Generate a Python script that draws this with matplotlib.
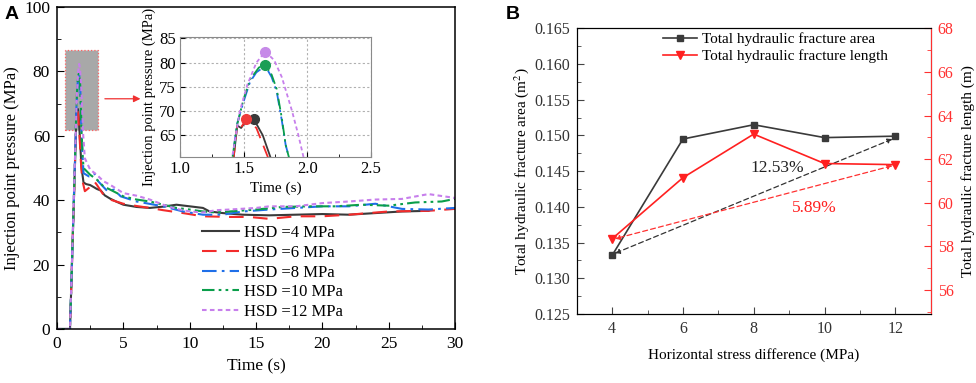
import matplotlib
matplotlib.use("Agg")
import matplotlib.pyplot as plt
from matplotlib.patches import Rectangle
from matplotlib.ticker import MultipleLocator, FormatStrFormatter

plt.rcParams['font.family'] = ['Liberation Serif', 'DejaVu Serif']
plt.rcParams['mathtext.fontset'] = 'stix'

# ---------------- Panel A data ----------------
labels_a = ["HSD =4 MPa", "HSD =6 MPa", "HSD =8 MPa", "HSD =10 MPa", "HSD =12 MPa"]

t_4 = [0, 0.98, 1.42, 1.45, 1.48, 1.52, 1.58, 1.65, 1.71, 1.85, 2.0, 2.2, 2.5, 2.8, 3.0, 3.3, 3.6,
       4.0, 4.5, 5.0, 6, 7, 8, 9, 10, 11, 11.5, 12.5, 14, 16, 18, 20, 22, 24, 26, 28]
p_4 = [0, 0, 60, 67, 66.5, 68, 68.3, 65, 60.5, 50, 45.5, 45, 44.7, 44, 43.5, 43, 41.5,
       40.5, 39.5, 38.6, 37.9, 37.6, 38.0, 38.6, 38.1, 37.6, 36.5, 36.0, 35.5, 35.3, 35.5, 35.7, 35.5, 36.0, 36.5, 36.7]

t_6 = [0, 0.98, 1.42, 1.45, 1.48, 1.52, 1.60, 1.69, 1.8, 1.9, 2.1, 2.4, 2.8, 3.0, 3.5, 4.0,
       5, 6, 7, 8, 9.5, 11, 13, 14.5, 16, 18, 20, 22, 25, 28, 30]
p_6 = [0, 0, 60, 67.3, 66.6, 68.3, 66.5, 60.5, 52, 46.4, 42.8, 43.8, 45.9, 44.8, 41.7, 40.2,
       38.9, 38.2, 37.6, 36.9, 36.0, 35.0, 34.8, 34.8, 34.2, 35.0, 35.0, 35.5, 36.5, 36.7, 37.3]

t_8 = [0, 0.98, 1.41, 1.45, 1.5, 1.55, 1.6, 1.67, 1.72, 1.76, 1.80, 1.83, 1.86, 1.95, 2.0, 2.4,
       2.8, 3.1, 3.8, 4.3, 4.8, 6, 8, 9.5, 11, 12.5, 14, 16, 18, 20, 22, 24, 26, 28, 30]
p_8 = [0, 0, 60, 67.5, 72, 76, 78, 79.3, 77, 74, 68, 63, 60, 52, 48.4, 47.4,
       48.4, 45.9, 42.8, 43.3, 41.2, 39.6, 38.1, 36.5, 35.5, 35.5, 36.5, 37.1, 37.6, 38.1, 38.1, 38.9, 37.3, 37.1, 37.6]

t_10 = [0, 0.98, 1.41, 1.45, 1.5, 1.55, 1.62, 1.67, 1.72, 1.76, 1.80, 1.83, 1.86, 1.95, 2.0, 2.5,
        3.0, 3.5, 4, 5, 6, 7, 8, 9, 10, 11, 12, 13, 15, 17, 19, 21, 23, 25, 27, 29, 30]
p_10 = [0, 0, 60, 67.3, 72.5, 76.5, 79, 79.5, 77.5, 74.5, 68.5, 63, 60, 53, 50, 47.9,
        46.4, 44.3, 43.3, 41.2, 40.2, 39.6, 38.6, 37.6, 37.1, 36.5, 36.2, 36.5, 37.1, 37.9, 38.1, 38.1, 38.6, 38.3, 39.3, 39.6, 40.4]

t_12 = [0, 0.98, 1.42, 1.47, 1.53, 1.6, 1.67, 1.74, 1.8, 1.88, 1.93, 1.97, 2.1, 2.5, 3, 3.5, 4,
        5, 6, 7, 8, 9, 10, 11, 12, 13, 15, 16, 18, 20, 22, 24, 26, 28, 30]
p_12 = [0, 0, 62, 70, 75.5, 80, 82.3, 80.5, 77, 70, 65, 60.5, 53, 49.5, 47.9, 45.9, 44.8,
        42.2, 41.4, 40.2, 38.6, 37.3, 36.5, 36.2, 36.9, 37.1, 37.6, 38.1, 38.1, 39.1, 39.6, 40.2, 40.4, 41.9, 40.7]

# peak markers shown in the inset (time, pressure)
peak_t = [1.58, 1.52, 1.67, 1.67]
peak_p = [68.3, 68.3, 79.5, 82.3]
peak_colors = ["#3a3a3a", "#f03a3a", "#1a9e55", "#c68ae8"]

# ---------------- Panel B data ----------------
hsd = [4, 6, 8, 10, 12]
area = [0.1332, 0.1495, 0.1515, 0.1497, 0.1499]
length = [58.35, 61.15, 63.15, 61.8, 61.75]
area_label = "Total hydraulic fracture area"
length_label = "Total hydraulic fracture length"
area_pct = "12.53%"
length_pct = "5.89%"

colors = ["#3a3a3a", "#f22b2b", "#1f6fe8", "#0a9e4a", "#c77fec"]
dashes = [None, (7, 4.5), (7, 2.5, 1.3, 2.5), (6, 2, 1.3, 2, 1.3, 2), (2.2, 1.6)]
series = [(t_4, p_4), (t_6, p_6), (t_8, p_8), (t_10, p_10), (t_12, p_12)]

fig = plt.figure(figsize=(9.76, 3.83), dpi=100)

# ---------------- Panel A ----------------
axA = fig.add_axes([0.0584, 0.141, 0.4078, 0.8407])
for (t, p), c, d, lab in zip(series, colors, dashes, labels_a):
    line, = axA.plot(t, p, color=c, lw=1.5, label=lab)
    if d is not None:
        line.set_dashes(d)
axA.set_xlim(0, 30)
axA.set_ylim(0, 100)
axA.xaxis.set_major_locator(MultipleLocator(5))
axA.xaxis.set_minor_locator(MultipleLocator(2.5))
axA.yaxis.set_major_locator(MultipleLocator(20))
axA.yaxis.set_minor_locator(MultipleLocator(10))
axA.tick_params(which='both', direction='in', labelsize=12.5, pad=5)
axA.tick_params(which='major', length=5)
axA.tick_params(which='minor', length=3)
for s in axA.spines.values():
    s.set_linewidth(1.1)
axA.set_xlabel("Time (s)", fontsize=12.5, labelpad=5)
axA.set_ylabel("Injection point pressure (MPa)", fontsize=12, labelpad=3)
axA.add_patch(Rectangle((0.6, 61.8), 2.5, 24.8, facecolor="#a8a8a8", edgecolor="#ff6060",
                        lw=0.9, ls=':', zorder=0.5))
axA.annotate("", xy=(6.5, 71.5), xytext=(3.4, 71.5),
             arrowprops=dict(arrowstyle="-|>", color="#f03030", lw=0.9, mutation_scale=10))
axA.legend(loc='upper left', bbox_to_anchor=(0.364, 0.322), frameon=False, fontsize=12,
           handlelength=2.2, handletextpad=0.3, labelspacing=0.22, borderpad=0, borderaxespad=0)

# inset
axI = fig.add_axes([0.1844, 0.590, 0.1957, 0.3134])
for (t, p), c, d in zip(series, colors, dashes):
    line, = axI.plot(t, p, color=c, lw=1.3)
    if d is not None:
        line.set_dashes(d)
for tt, pp, c in zip(peak_t, peak_p, peak_colors):
    axI.plot([tt], [pp], 'o', color=c, ms=7, zorder=5)
axI.set_xlim(1.0, 2.5)
axI.set_ylim(60.5, 85.3)
axI.xaxis.set_major_locator(MultipleLocator(0.5))
axI.xaxis.set_minor_locator(MultipleLocator(0.25))
axI.set_yticks([65, 70, 75, 80, 85])
axI.grid(True, which='major', color='#b0b0b0', ls=(0, (2, 2)), lw=0.8)
axI.tick_params(which='both', direction='in', labelsize=12, pad=3)
axI.tick_params(which='major', length=3.5)
axI.tick_params(which='minor', length=2)
for s in axI.spines.values():
    s.set_color('#8a8a8a')
axI.set_xlabel("Time (s)", fontsize=11, labelpad=3)
axI.set_ylabel("Injection point pressure (MPa)", fontsize=10.5, labelpad=2)

# ---------------- Panel B ----------------
axB = fig.add_axes([0.5909, 0.1802, 0.3627, 0.7458])
lnA, = axB.plot(hsd, area, color="#3a3a3a", lw=1.2, marker='s', ms=5, label=area_label)
axB.set_xlim(3, 13)
axB.set_ylim(0.125, 0.165)
axB.xaxis.set_major_locator(MultipleLocator(2))
axB.xaxis.set_minor_locator(MultipleLocator(1))
axB.yaxis.set_major_locator(MultipleLocator(0.005))
axB.yaxis.set_minor_locator(MultipleLocator(0.0025))
axB.yaxis.set_major_formatter(FormatStrFormatter('%.3f'))
axB.tick_params(which='both', direction='in', labelsize=11.5, pad=5, colors='#444444')
axB.tick_params(axis='both', labelcolor='#333333')
axB.tick_params(which='major', length=5)
axB.tick_params(which='minor', length=3)
axB.set_xlabel("Horizontal stress difference (MPa)", fontsize=11, labelpad=8)
axB.set_ylabel("Total hydraulic fracture area (m$^2$)", fontsize=11, labelpad=2)
axB.annotate("", xy=(4.08, area[0] + 0.0003), xytext=(11.92, area[-1] - 0.0004),
             arrowprops=dict(arrowstyle="<|-|>", color="#333333", lw=0.9, ls=(0, (4, 2.5)),
                             mutation_scale=7, shrinkA=0, shrinkB=0))
axB.text(8.67, 0.1454, area_pct, fontsize=12.5, ha='center', va='center', color='#222222')

axB2 = axB.twinx()
lnL, = axB2.plot(hsd, length, color="#ff2020", lw=1.2, marker='v', ms=6, label=length_label)
axB2.set_ylim(54.9, 68)
axB2.yaxis.set_major_locator(MultipleLocator(2))
axB2.yaxis.set_minor_locator(MultipleLocator(1))
axB2.tick_params(which='both', direction='in', labelsize=11.5, pad=5, colors='#ff3030')
axB2.tick_params(which='major', length=5)
axB2.tick_params(which='minor', length=3)
axB2.spines['right'].set_color('#ff3030')
axB2.set_ylabel("Total hydraulic fracture length (m)", fontsize=11, labelpad=5)
axB2.annotate("", xy=(4.08, length[0]), xytext=(11.92, length[-1] - 0.05),
              arrowprops=dict(arrowstyle="<|-|>", color="#ff3030", lw=0.9, ls=(0, (4, 2.5)),
                              mutation_scale=7, shrinkA=0, shrinkB=0))
axB2.text(9.7, 59.77, length_pct, fontsize=12.5, ha='center', va='center', color='#ff2020')
axB2.legend([lnA, lnL], [area_label, length_label], loc='upper left', bbox_to_anchor=(0.245, 0.985),
            frameon=False, fontsize=11, handlelength=2.2, handletextpad=0.3, labelspacing=0.2,
            borderpad=0, borderaxespad=0)

# panel letters
fig.text(0.005, 0.985, "A", fontsize=14, fontweight='bold', family='Liberation Sans', va='top')
fig.text(0.518, 0.985, "B", fontsize=14, fontweight='bold', family='Liberation Sans', va='top')

fig.savefig("out.png", dpi=100)
